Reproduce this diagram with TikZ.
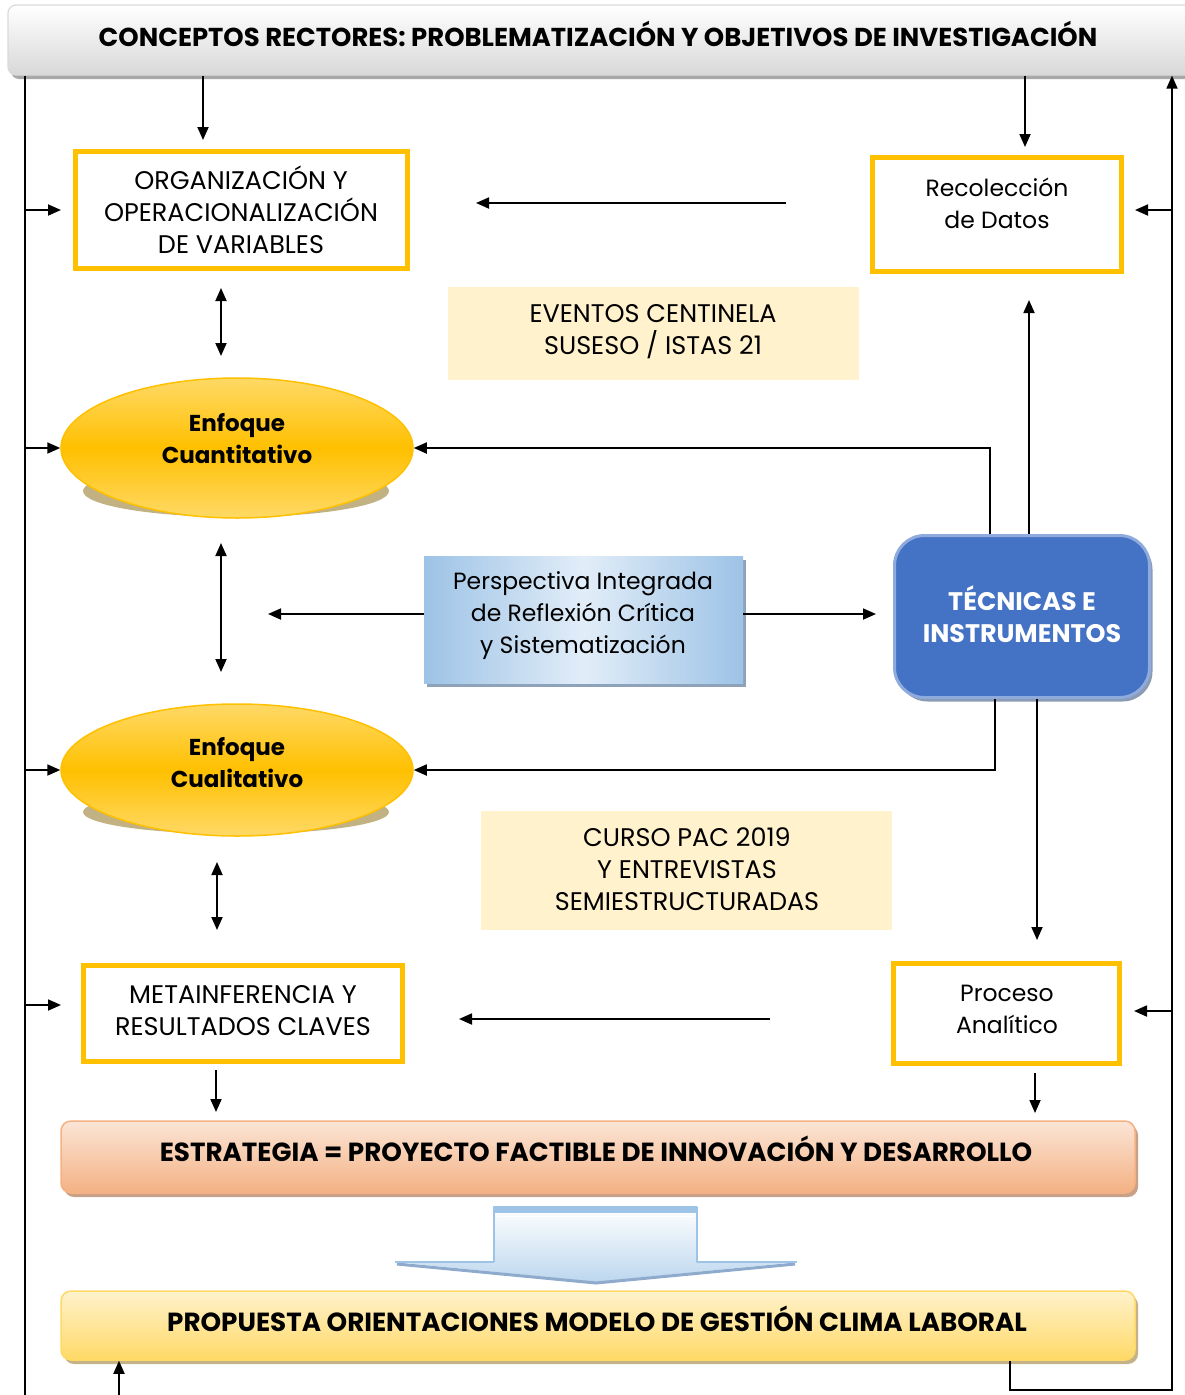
\documentclass[tikz,border=0pt]{standalone}
\usepackage{fontspec}
\setmainfont{Poppins}
\usetikzlibrary{arrows.meta,shapes.geometric}

\definecolor{boxgold}{HTML}{FFC000}
\definecolor{softgold}{HTML}{FFD966}
\definecolor{cream}{HTML}{FFF2CC}
\definecolor{ellshadow}{HTML}{C2B283}
\definecolor{techblue}{HTML}{4472C4}
\definecolor{techedge}{HTML}{8FAADC}
\definecolor{techshadow}{HTML}{8B9BB4}
\definecolor{skyblue}{HTML}{9DC3E6}
\definecolor{paleblue}{HTML}{E2EDF8}
\definecolor{perspshadow}{HTML}{8EA3BA}
\definecolor{peach}{HTML}{F4B183}
\definecolor{palepeach}{HTML}{FBE5D6}
\definecolor{peachshadow}{HTML}{C9A088}
\definecolor{goldshadow}{HTML}{C4B388}
\definecolor{bannergray}{HTML}{D8D8D8}
\definecolor{bannerline}{HTML}{DADADA}
\definecolor{bannershadow}{HTML}{A8A8A8}
\definecolor{arrowblue}{HTML}{BDD7EE}
\definecolor{arrowshade}{HTML}{8EAACC}

\tikzset{
  tip/.tip={Triangle[length=13pt,width=11pt]},
  arr/.style={-tip, line width=1.8pt, black},
  darr/.style={tip-tip, line width=1.8pt, black},
  wire/.style={line width=1.8pt, black},
  size/.style 2 args={minimum width=#1, minimum height=#2, inner sep=0pt},
  goldbox/.style={draw=boxgold, line width=5pt, fill=white},
  txt/.style={font=\fontsize{23.5}{32}\selectfont, align=center, inner sep=0pt},
  captxt/.style={font=\fontsize{25.5}{32}\selectfont, align=center, inner sep=0pt},
  btxt/.style={font=\bfseries\fontsize{23}{32}\selectfont, align=center, inner sep=0pt},
  bigbtxt/.style={font=\bfseries\fontsize{26.2}{32}\selectfont, align=center, inner sep=0pt},
  shadowed/.style={preaction={fill=#1, transform canvas={shift={(3pt,-4pt)}}}},
  enfoque/.style={ellipse, draw=boxgold, line width=1.5pt,
    top color=softgold, bottom color=softgold, middle color=boxgold},
}

\begin{document}
\begin{tikzpicture}[x=1pt,y=-1pt]
\useasboundingbox (0,0) rectangle (1184,1395);

% ---- header banner
\node[size={1187pt}{70pt}, rounded corners=8pt, draw=bannerline, line width=1.2pt,
      top color=white, bottom color=bannergray, shadowed=bannershadow] (top) at (601.5,40) {};
\node[bigbtxt, font=\bfseries\fontsize{25.9}{32}\selectfont] (top-txt) at (598,34)
  {CONCEPTOS RECTORES: PROBLEMATIZACIÓN Y OBJETIVOS DE INVESTIGACIÓN};

% ---- framed boxes
\node[goldbox, size={332pt}{117pt}] (org) at (241.5,210) {};
\node[captxt] (org-txt) at (241,210) {ORGANIZACIÓN Y\\OPERACIONALIZACIÓN\\DE VARIABLES};

\node[goldbox, size={249pt}{114pt}] (rec) at (997,214.5) {};
\node[txt] (rec-txt) at (997,203) {Recolección\\de Datos};

\node[goldbox, size={319pt}{96pt}] (meta) at (243,1013.5) {};
\node[captxt] (meta-txt) at (243,1011) {METAINFERENCIA Y\\RESULTADOS CLAVES};

\node[goldbox, size={226pt}{100pt}] (proc) at (1006.5,1013.5) {};
\node[txt] (proc-txt) at (1007,1009) {Proceso\\Analítico};

% ---- note panels
\node[fill=cream, size={411pt}{93pt}] (ev) at (653.5,333.5) {};
\node[captxt] (ev-txt) at (653,332) {EVENTOS CENTINELA\\SUSESO / ISTAS 21};

\node[fill=cream, size={411pt}{119pt}] (curso) at (686.5,870.5) {};
\node[captxt] (curso-txt) at (687,869) {CURSO PAC 2019\\Y ENTREVISTAS\\SEMIESTRUCTURADAS};

% ---- approach ellipses
\fill[ellshadow] (236,491) ellipse [x radius=153, y radius=26];
\node[enfoque, size={352pt}{140pt}] (quant) at (237,448) {};
\node[btxt] (quant-txt) at (237,439) {Enfoque\\Cuantitativo};

\fill[ellshadow] (236,812) ellipse [x radius=153, y radius=22];
\node[enfoque, size={352pt}{132pt}] (qual) at (237,770) {};
\node[btxt] (qual-txt) at (237,763) {Enfoque\\Cualitativo};

% ---- integrating perspective
\node[size={319pt}{127pt}, shadowed=perspshadow, shading=axis, shading angle=45,
      left color=skyblue, right color=skyblue, middle color=paleblue] (persp) at (583.5,619.5) {};
\node[txt] (persp-txt) at (583,616) {Perspectiva Integrada\\de Reflexión Crítica\\y Sistematización};

% ---- techniques and instruments
\node[size={255pt}{162pt}, rounded corners=30pt, draw=techedge, line width=3pt,
      fill=techblue, shadowed=techshadow] (tec) at (1022,616.5) {};
\node[btxt, text=white, font=\bfseries\fontsize{25.4}{32}\selectfont] (tec-txt) at (1022,614)
  {TÉCNICAS E\\INSTRUMENTOS};

% ---- strategy and proposal bars
\node[size={1074pt}{72pt}, rounded corners=10pt, draw=peach, line width=1.5pt,
      top color=palepeach, bottom color=peach, shadowed=peachshadow] (estr) at (598,1157) {};
\node[bigbtxt] (estr-txt) at (596,1149)
  {ESTRATEGIA = PROYECTO FACTIBLE DE INNOVACIÓN Y DESARROLLO};

\node[size={1074pt}{69pt}, rounded corners=10pt, draw=softgold, line width=1.5pt,
      top color=cream, bottom color=softgold, shadowed=goldshadow] (prop) at (598,1325.5) {};
\node[bigbtxt] (prop-txt) at (597,1319)
  {PROPUESTA ORIENTACIONES MODELO DE GESTIÓN CLIMA LABORAL};

% ---- broad down arrow between the bars
\path[top color=white, bottom color=arrowblue]
  (494,1207) -- (697,1207) -- (697,1262) -- (797,1262) -- (596,1282)
  -- (395,1262) -- (494,1262) -- cycle;
\draw[arrowshade, line width=3pt] (397,1264) -- (596,1283) -- (795,1264);
\draw[skyblue, line width=2pt, line join=round]
  (494,1262) -- (494,1207) -- (697,1207) -- (697,1262) -- (797,1262)
  (395,1262) -- (494,1262);
\fill[skyblue] (494,1207) rectangle (697,1213);
\draw[white, line width=1pt] (497,1216) -- (694,1216);

% ---- connector end points
\coordinate (busL) at (25,1400);
\coordinate (busR) at (1172,1390);
\coordinate (loop) at (1010,1390);
\coordinate (propin) at (119,1400);
\coordinate (orgin) at (61,210);
\coordinate (metain) at (61,1005);
\coordinate (recin) at (1135,210);
\coordinate (procin) at (1134,1011);
\coordinate (orgtip) at (203,140);
\coordinate (rectip) at (1025,147);
\coordinate (f1a) at (786,203);
\coordinate (f1b) at (476,203);
\coordinate (f2a) at (770,1019);
\coordinate (f2b) at (459,1019);
\coordinate (d1a) at (221,288);
\coordinate (d1b) at (221,356);
\coordinate (d2a) at (221,543);
\coordinate (d2b) at (221,672);
\coordinate (d3a) at (217,862);
\coordinate (d3b) at (217,930);
\coordinate (pl) at (268,614);
\coordinate (pr) at (876,614);
\coordinate (k1) at (990,448);
\coordinate (k2) at (1029,300);
\coordinate (k3) at (995,771);
\coordinate (k4) at (1037,940);
\coordinate (k5) at (216,1112);
\coordinate (k6) at (1035,1113);

% ---- left bus feeding the main column
\draw[wire] (top.south -| busL) -- (busL);
\draw[arr] (busL |- orgin) -- (orgin);
\draw[arr] (busL |- quant.west) -- (quant.west);
\draw[arr] (busL |- qual.west) -- (qual.west);
\draw[arr] (busL |- metain) -- (metain);

% ---- right bus: feedback loop from the proposal
\draw[arr] (prop.south -| loop) -- (loop) -- (busR) -- (busR |- top.south);
\draw[arr] (busR |- recin) -- (recin);
\draw[arr] (busR |- procin) -- (procin);
\draw[arr] (propin) -- (prop.south -| propin);

% ---- from the banner
\draw[arr] (top.south -| orgtip) -- (orgtip);
\draw[arr] (top.south -| rectip) -- (rectip);

% ---- horizontal flows
\draw[arr] (f1a) -- (f1b);
\draw[arr] (f2a) -- (f2b);
\draw[arr] (persp.west |- pl) -- (pl);
\draw[arr] (persp.east |- pr) -- (pr);

% ---- vertical links in the main column
\draw[darr] (d1a) -- (d1b);
\draw[darr] (d2a) -- (d2b);
\draw[darr] (d3a) -- (d3b);

% ---- from techniques and instruments
\draw[arr] (tec.north -| k1) -- (k1 |- quant.east) -- (quant.east);
\draw[arr] (tec.north -| k2) -- (k2);
\draw[arr] (tec.south -| k3) -- (k3 |- qual.east) -- (qual.east);
\draw[arr] (tec.south -| k4) -- (k4);

% ---- into the strategy bar
\draw[arr, shorten <=6pt] (meta.south -| k5) -- (k5);
\draw[arr, shorten <=7pt] (proc.south -| k6) -- (k6);
\end{tikzpicture}
\end{document}
